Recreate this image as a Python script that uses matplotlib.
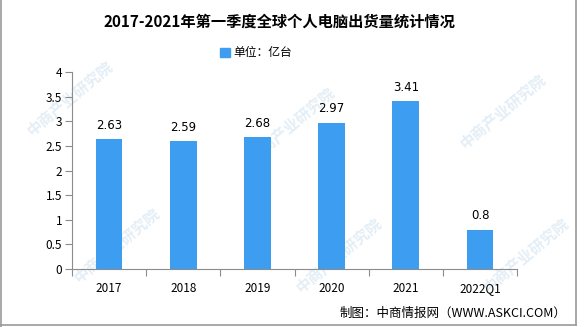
import matplotlib.pyplot as plt
from matplotlib.patches import Patch
from matplotlib.lines import Line2D

plt.rcParams['font.family'] = ['Noto Sans CJK SC', 'DejaVu Sans']

# quarterly PC shipments, 100 million units
years = ['2017', '2018', '2019', '2020', '2021', '2022Q1']
shipments = [2.63, 2.59, 2.68, 2.97, 3.41, 0.8]
labels = ['2.63', '2.59', '2.68', '2.97', '3.41', '0.8']

bar_color = '#3d9df0'
axis_color = '#8c8c8c'

fig = plt.figure(figsize=(5.85, 3.27), dpi=100)
ax = fig.add_axes([0.123, 0.177, 0.761, 0.603])

# faint diagonal watermark behind everything
for wx, wy in [(0.12, 0.70), (0.50, 0.62), (0.86, 0.66),
               (0.20, 0.25), (0.58, 0.22), (0.90, 0.22)]:
    fig.text(wx, wy, '中商产业研究院', rotation=40, fontsize=11, fontweight='bold',
             color='#e4eef6', ha='center', va='center', zorder=-1)

x = range(len(years))
ax.bar(x, shipments, width=0.36, color=bar_color, zorder=2)
for i, (v, t) in enumerate(zip(shipments, labels)):
    ax.annotate(t, (i, v), xytext=(0, 10), textcoords='offset points',
                ha='center', va='center', fontsize=8.5, family='DejaVu Sans')

ax.set_xlim(-0.5, len(years) - 0.5)
ax.set_ylim(0, 4)
ax.set_yticks([0, 0.5, 1, 1.5, 2, 2.5, 3, 3.5, 4])
ax.set_yticklabels(['0', '0.5', '1', '1.5', '2', '2.5', '3', '3.5', '4'], fontsize=8.5)

# category ticks at the boundaries, labels centred under the bars
ax.set_xticks([i - 0.5 for i in range(len(years) + 1)])
ax.set_xticklabels([])
ax.set_xticks(list(x), minor=True)
ax.set_xticklabels(years, minor=True, fontsize=8.5)
ax.tick_params(axis='x', which='minor', length=0, pad=9)
ax.tick_params(axis='x', which='major', length=5, color=axis_color)
ax.tick_params(axis='y', length=5, color=axis_color, pad=2)

for s in ['top', 'right']:
    ax.spines[s].set_visible(False)
for s in ['left', 'bottom']:
    ax.spines[s].set_color(axis_color)
ax.patch.set_alpha(0)

fig.text(0.477, 0.935, '2017-2021年第一季度全球个人电脑出货量统计情况',
         ha='center', va='center', fontsize=11, fontweight='bold')

fig.legend(handles=[Patch(color=bar_color)], labels=['单位：亿台'],
           loc='center', bbox_to_anchor=(0.438, 0.838), frameon=False,
           fontsize=8.5, handlelength=0.8, handleheight=0.8, handletextpad=0.3)

fig.text(0.968, 0.043, '制图：中商情报网（WWW.ASKCI.COM）',
         ha='right', va='center', fontsize=9)

# grey frame around the chart
for xs, ys in [([0.002, 0.002], [0, 1]), ([0.985, 0.985], [0.005, 1]),
               ([0.002, 0.985], [0.005, 0.005])]:
    fig.add_artist(Line2D(xs, ys, color='#9a9a9a', lw=1.2, transform=fig.transFigure))

fig.savefig('out.png', dpi=100)
